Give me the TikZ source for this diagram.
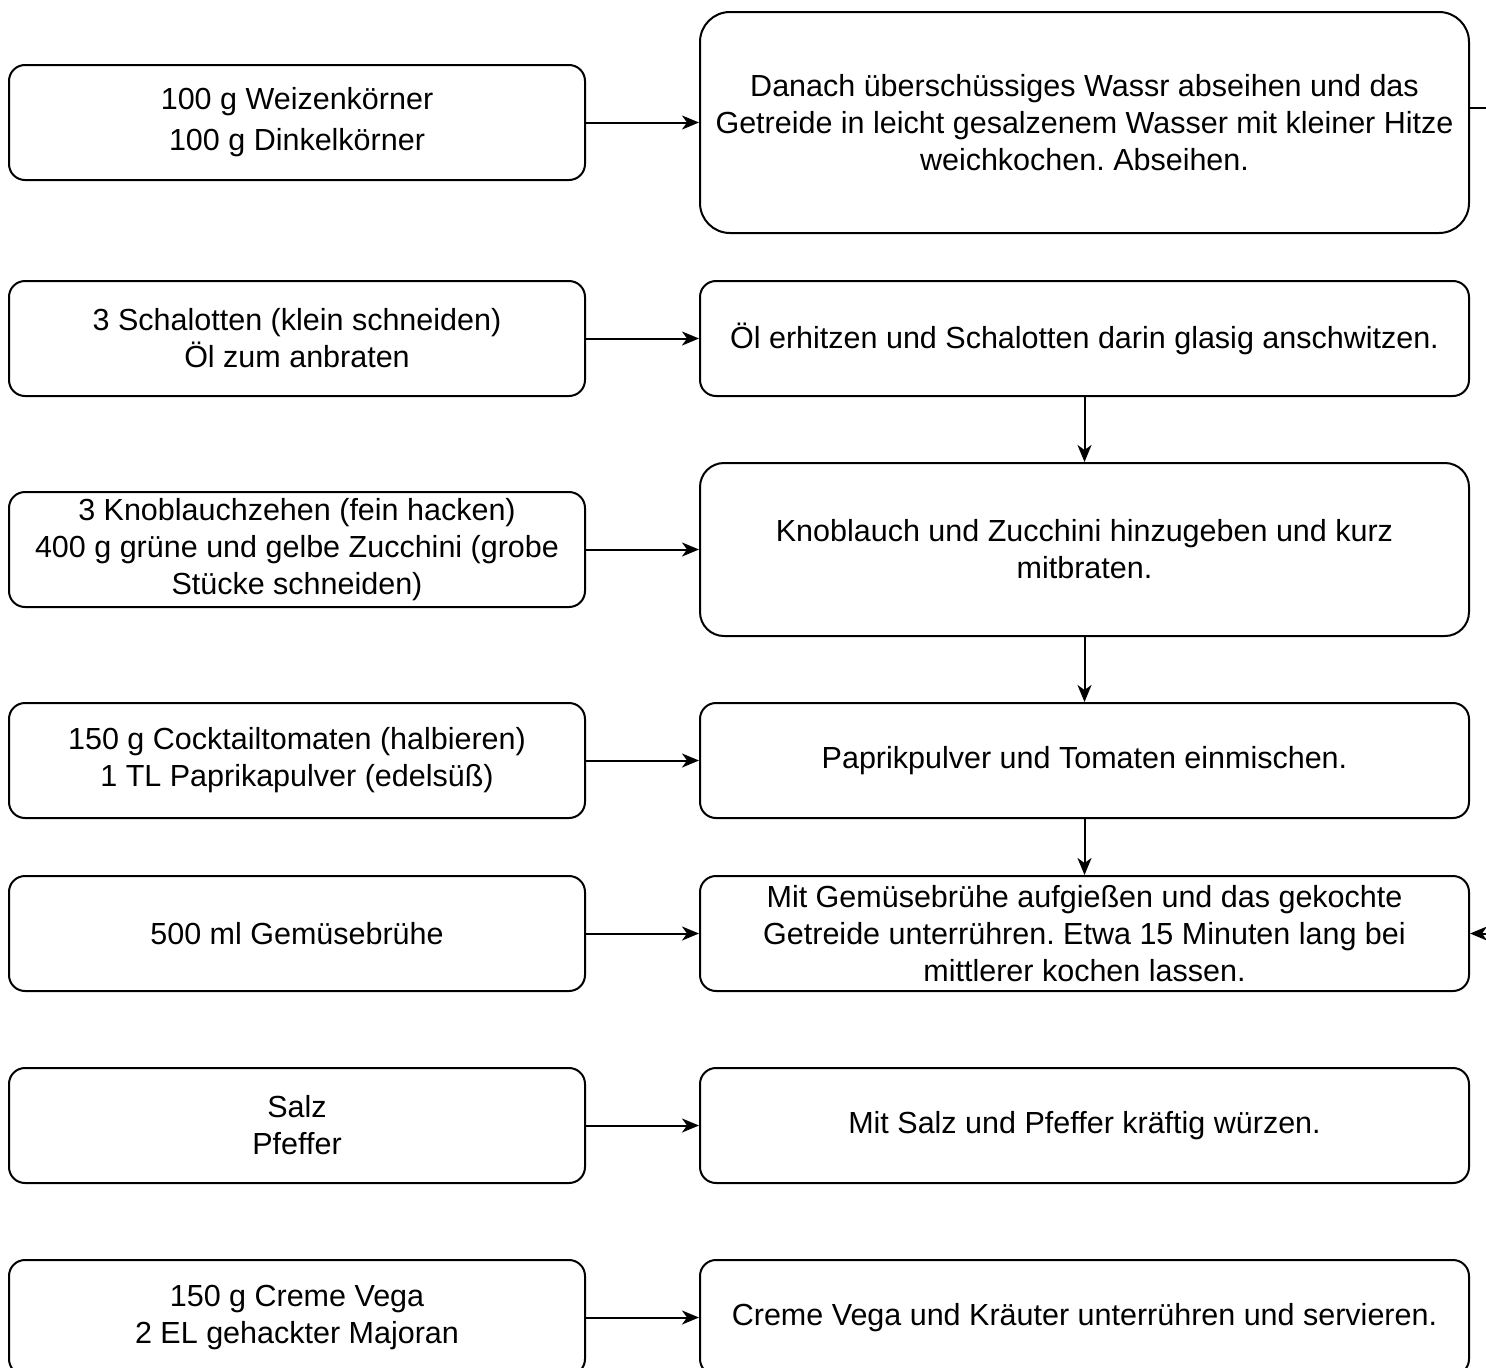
\documentclass[tikz,border=0pt]{standalone}
\usepackage{fontspec}
\setmainfont{Liberation Sans}
\usepackage{tikz}
\usetikzlibrary{arrows.meta,positioning,calc}
\frenchspacing

\begin{document}
\begin{tikzpicture}[
  x=1pt, y=-1pt,
  box/.style={draw=black, line width=2pt, rounded corners=16pt, align=center, font=\fontsize{30.5}{37}\selectfont, inner sep=0pt},
  ingr/.style={box, minimum width=576pt, minimum height=115pt},
  stepbox/.style={box, minimum width=769pt, minimum height=115pt},
  arrow/.style={-{Stealth[length=17pt, width=14pt, inset=5pt]}, line width=2pt, draw=black}
]
\useasboundingbox (0,0) rectangle (1486,1368);

% Zutaten
\node[ingr] (weizen) at (297,122.5) {100 g Weizenkörner\\[4pt]100 g Dinkelkörner};
\node[ingr] (schalotten) at (297,338.5) {3 Schalotten (klein schneiden)\\Öl zum anbraten};
\node[ingr] (knoblauch) at (297,549.5) {3 Knoblauchzehen (fein hacken)\\400 g grüne und gelbe Zucchini (grobe\\Stücke schneiden)};
\node[ingr] (tomaten) at (297,760.5) {150 g Cocktailtomaten (halbieren)\\1 TL Paprikapulver (edelsüß)};
\node[ingr] (bruehe) at (297,933.5) {500 ml Gemüsebrühe};
\node[ingr] (salz) at (297,1125.5) {Salz\\Pfeffer};
\node[ingr] (creme) at (297,1317.5) {150 g Creme Vega\\2 EL gehackter Majoran};

% Arbeitsschritte
\node[stepbox, minimum height=221pt, rounded corners=30pt] (kochen) at (1084.5,122.5) {Danach überschüssiges Wassr abseihen und das\\Getreide in leicht gesalzenem Wasser mit kleiner Hitze\\weichkochen. Abseihen.};
\node[stepbox] (anschwitzen) at (1084.5,338.5) {Öl erhitzen und Schalotten darin glasig anschwitzen.};
\node[stepbox, minimum height=173pt, rounded corners=24pt] (mitbraten) at (1084.5,549.5) {Knoblauch und Zucchini hinzugeben und kurz\\mitbraten.};
\node[stepbox] (einmischen) at (1084.5,760.5) {Paprikpulver und Tomaten einmischen.};
\node[stepbox] (aufgiessen) at (1084.5,933.5) {Mit Gemüsebrühe aufgießen und das gekochte\\Getreide unterrühren. Etwa 15 Minuten lang bei\\mittlerer kochen lassen.};
\node[stepbox] (wuerzen) at (1084.5,1125.5) {Mit Salz und Pfeffer kräftig würzen.};
\node[stepbox] (servieren) at (1084.5,1317.5) {Creme Vega und Kräuter unterrühren und servieren.};

\draw[arrow] (weizen) -- (kochen);
\draw[arrow] (schalotten) -- (anschwitzen);
\draw[arrow] (knoblauch) -- (knoblauch -| mitbraten.west);
\draw[arrow] (tomaten) -- (einmischen);
\draw[arrow] (bruehe) -- (aufgiessen);
\draw[arrow] (salz) -- (wuerzen);
\draw[arrow] (creme) -- (servieren);

\draw[arrow] (anschwitzen) -- (mitbraten);
\draw[arrow] (mitbraten) -- (einmischen);
\draw[arrow] (einmischen) -- (aufgiessen);

\coordinate (rueck) at ($(kochen.east)+(0,-14.5)$);
\draw[arrow] (rueck) -- ++(40,0) |- (aufgiessen.east);
\end{tikzpicture}
\end{document}
